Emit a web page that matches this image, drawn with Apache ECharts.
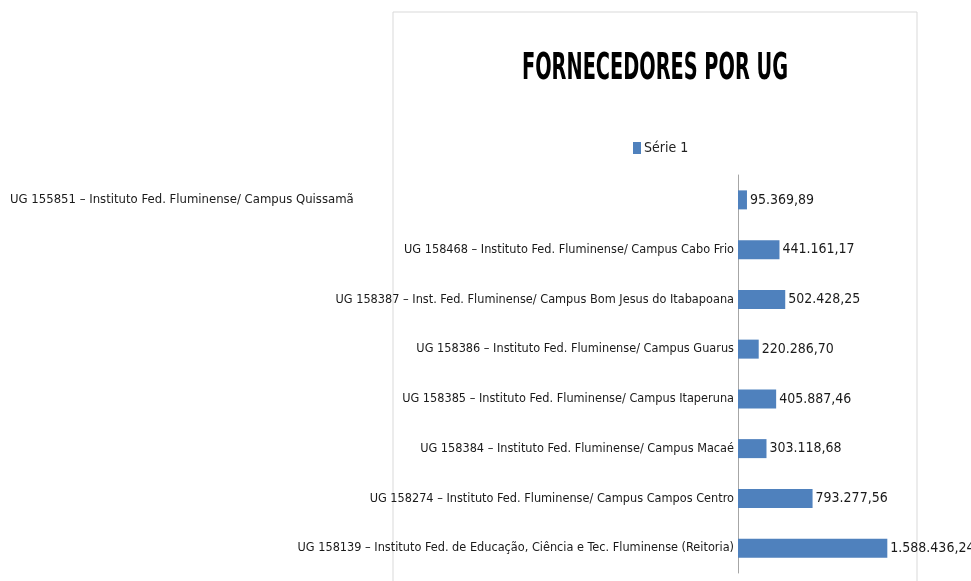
<!DOCTYPE html>
<html>
<head>
<meta charset="utf-8">
<script src="https://cdn.jsdelivr.net/npm/echarts@6/dist/echarts.min.js"></script>
<style>
  html, body { margin: 0; padding: 0; background: #fff; }
  #chart { width: 971px; height: 581px; }
</style>
</head>
<body>
<div id="chart"></div>
<script>
// top to bottom, as in the picture
const categories = [
  'UG 155851 – Instituto Fed. Fluminense/ Campus Quissamã',
  'UG 158468 – Instituto Fed. Fluminense/ Campus Cabo Frio',
  'UG 158387 – Inst. Fed. Fluminense/ Campus Bom Jesus do Itabapoana',
  'UG 158386 – Instituto Fed. Fluminense/ Campus Guarus',
  'UG 158385 – Instituto Fed. Fluminense/ Campus Itaperuna',
  'UG 158384 – Instituto Fed. Fluminense/ Campus Macaé',
  'UG 158274 – Instituto Fed. Fluminense/ Campus Campos Centro',
  'UG 158139 – Instituto Fed. de Educação, Ciência e Tec. Fluminense (Reitoria)'
]
const serie1 = [95369.89, 441161.17, 502428.25, 220286.70, 405887.46, 303118.68, 793277.56, 1588436.24]
const seriesName = 'Série 1'
const chartTitle = 'FORNECEDORES POR UG'

const font = "'DejaVu Sans Condensed', 'Liberation Sans', sans-serif"

const formatBR = (v) => {
  const [int, dec] = v.toFixed(2).split('.')
  return int.replace(/\B(?=(\d{3})+(?!\d))/g, '.') + ',' + dec
}

const chart = echarts.init(document.getElementById('chart'))
chart.setOption({
  animation: false,
  legend: {
    data: [seriesName],
    left: 628,
    top: 136,
    icon: 'rect',
    itemWidth: 8,
    itemHeight: 12,
    itemGap: 4,
    textStyle: { fontFamily: font, fontSize: 14, color: '#222', padding: [0, 0, 0, -2] }
  },
  graphic: [
    {
      type: 'rect',
      z: -10,
      shape: { x: 393, y: 12, width: 524, height: 600 },
      style: { fill: 'none', stroke: '#d9d9d9', lineWidth: 1 }
    },
    {
      // title drawn as text so it can be squeezed like the condensed original
      type: 'text',
      x: 655,
      y: 69,
      scaleX: 0.58,
      style: {
        text: chartTitle,
        fontFamily: font,
        fontSize: 37,
        fontWeight: 'bold',
        fill: '#000',
        align: 'center',
        verticalAlign: 'middle'
      }
    }
  ],
  grid: { left: 738, right: 45, top: 175, bottom: 8, containLabel: false },
  xAxis: {
    type: 'value',
    min: 0,
    max: 2000000,
    show: false
  },
  yAxis: {
    type: 'category',
    inverse: true,
    data: categories,
    axisLine: { show: true, lineStyle: { color: '#a6a6a6', width: 1 } },
    axisTick: { show: false },
    axisLabel: {
      margin: 4,
      fontFamily: font,
      fontSize: 12.6,
      color: '#1a1a1a',
      formatter: (v, i) => i === 0 ? '{q|' + v + '}' : v,
      rich: {
        q: { width: 724, align: 'left', fontFamily: font, fontSize: 13, color: '#1a1a1a' }
      }
    }
  },
  series: [{
    name: seriesName,
    type: 'bar',
    data: serie1,
    barWidth: 19,
    itemStyle: { color: '#4f81bd' },
    label: {
      show: true,
      position: 'right',
      distance: 3,
      fontFamily: font,
      fontSize: 14,
      color: '#1a1a1a',
      formatter: (p) => formatBR(p.value)
    }
  }]
})
</script>
</body>
</html>
